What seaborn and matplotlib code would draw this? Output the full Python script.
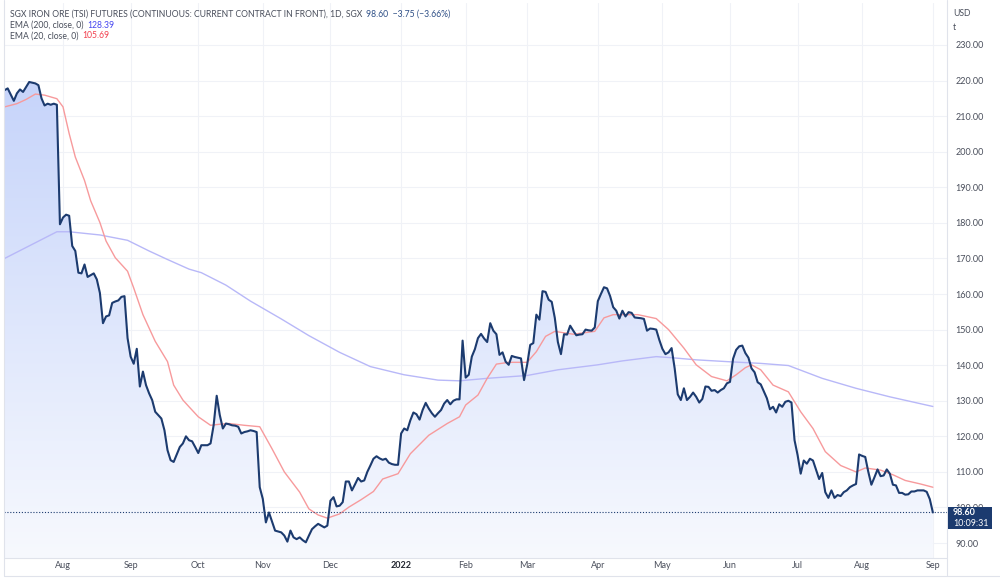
import numpy as np
import pandas as pd
import matplotlib
matplotlib.use("Agg")
import matplotlib.pyplot as plt
import seaborn as sns
from matplotlib.patches import Polygon, Rectangle
from matplotlib.lines import Line2D
from matplotlib.colors import LinearSegmentedColormap

# ---------------- data ----------------
start_date = "2021-07-06"
end_date = "2022-09-01"

close_idx = [0, 1, 3, 4, 5, 6, 8, 10, 11, 12, 13, 14, 15, 16, 17, 18, 19, 20, 21, 22, 23, 24, 25, 26, 27, 28, 29,
             30, 31, 32, 33, 34, 35, 36, 37, 38, 39, 40, 41, 42, 43, 44, 45, 46, 47, 48, 49, 51, 52, 53, 54, 55, 57,
             58, 59, 60, 61, 62, 63, 64, 66, 67, 68, 69, 70, 71, 72, 73, 74, 75, 76, 77, 78, 79, 80, 81, 82, 83, 84,
             85, 86, 88, 90, 91, 92, 93, 94, 95, 96, 97, 98, 99, 100, 101, 102, 103, 104, 105, 106, 107, 108, 109,
             110, 111, 112, 113, 114, 115, 116, 117, 118, 119, 120, 121, 122, 123, 124, 125, 126, 127, 128, 129, 130,
             131, 132, 133, 134, 135, 136, 137, 138, 139, 140, 141, 142, 143, 144, 145, 146, 147, 148, 149, 150, 151,
             152, 153, 154, 155, 156, 157, 158, 159, 160, 161, 162, 163, 164, 165, 166, 167, 168, 169, 170, 171, 172,
             173, 174, 175, 176, 177, 178, 179, 180, 181, 182, 183, 184, 185, 186, 187, 188, 189, 190, 191, 192, 193,
             194, 195, 196, 197, 198, 199, 200, 201, 202, 203, 204, 205, 206, 207, 208, 209, 210, 211, 212, 213, 214,
             215, 216, 217, 218, 219, 220, 221, 222, 223, 224, 225, 226, 227, 228, 229, 230, 231, 232, 233, 234, 235,
             236, 237, 238, 239, 240, 241, 242, 243, 244, 245, 246, 248, 249, 250, 251, 252, 253, 254, 255, 256, 257,
             258, 259, 260, 261, 262, 263, 265, 266, 267, 268, 269, 270, 271, 272, 273, 274, 275, 276, 277, 278, 279,
             280, 281, 282, 283, 284, 285, 286, 287, 288, 289, 290, 291, 292, 293, 294, 295, 296, 297, 298, 299, 300,
             301, 302]
close_val = [217.3, 217.8, 214.3, 216.4, 217.5, 216.8, 219.6, 219.2, 218.7, 215.0, 213.0, 213.5, 213.2, 213.5,
             213.2, 179.6, 181.5, 182.3, 182.0, 173.5, 172.1, 166.0, 165.8, 168.3, 164.8, 165.3, 165.8, 164.1, 160.3,
             151.8, 153.7, 154.0, 157.5, 157.9, 158.2, 159.2, 159.4, 147.6, 142.4, 140.4, 144.6, 134.0, 138.2, 134.4,
             132.1, 130.2, 126.9, 125.0, 121.7, 116.1, 113.3, 112.8, 117.0, 118.0, 120.0, 118.9, 118.6, 117.0, 115.3,
             117.5, 117.5, 118.0, 123.1, 131.4, 126.0, 122.2, 123.6, 123.4, 123.1, 123.0, 122.7, 120.8, 121.2, 121.4,
             121.7, 121.5, 121.2, 105.7, 102.4, 95.8, 98.6, 93.5, 93.0, 92.1, 90.4, 93.5, 91.6, 91.1, 91.6, 90.8,
             90.2, 92.1, 93.9, 94.7, 95.4, 94.9, 94.4, 94.9, 101.9, 102.9, 100.3, 100.5, 101.5, 107.3, 107.3, 104.8,
             106.5, 108.3, 107.3, 107.6, 110.0, 111.8, 113.7, 114.4, 113.8, 113.4, 113.7, 112.6, 112.2, 112.0, 112.0,
             120.8, 122.2, 121.7, 124.5, 126.7, 126.2, 124.7, 127.4, 129.4, 127.8, 126.5, 125.5, 126.5, 127.4, 129.2,
             130.2, 129.0, 130.0, 130.4, 130.4, 146.9, 136.5, 137.3, 142.4, 144.5, 147.6, 148.8, 147.5, 146.5, 151.8,
             149.7, 148.7, 142.9, 143.6, 141.0, 140.1, 142.6, 142.3, 142.1, 141.9, 135.8, 140.1, 145.7, 146.2, 154.2,
             152.8, 160.8, 160.6, 158.4, 157.8, 153.3, 146.5, 143.1, 148.7, 148.6, 151.1, 149.7, 148.4, 148.6, 148.7,
             150.0, 149.8, 149.7, 150.6, 158.0, 160.0, 161.9, 161.6, 159.4, 156.3, 155.3, 153.1, 155.3, 153.7, 154.9,
             154.7, 153.4, 153.3, 153.2, 153.0, 149.7, 150.3, 150.2, 150.0, 147.1, 144.6, 143.1, 143.6, 144.8, 139.1,
             131.8, 130.2, 133.5, 130.2, 131.1, 132.3, 131.1, 129.5, 130.5, 134.0, 133.9, 132.8, 133.0, 132.3, 133.0,
             133.5, 134.9, 135.3, 141.8, 144.3, 145.3, 145.5, 143.4, 142.1, 139.1, 138.0, 135.2, 134.6, 130.7, 127.6,
             128.3, 126.7, 129.0, 128.3, 129.7, 130.0, 129.5, 118.9, 114.7, 109.5, 113.2, 112.3, 113.7, 113.2, 108.0,
             109.7, 104.3, 102.7, 104.8, 102.7, 103.5, 103.2, 104.3, 104.8, 105.7, 106.2, 106.6, 114.9, 114.5, 114.2,
             110.0, 106.4, 108.5, 110.7, 108.8, 109.0, 110.7, 109.5, 106.4, 106.2, 104.1, 104.1, 103.6, 103.7, 104.5,
             104.5, 104.8, 104.8, 104.8, 104.4, 102.35, 98.6]

ema20_idx = [0, 4, 7, 10, 13, 17, 19, 21, 23, 26, 28, 31, 33, 36, 40, 42, 45, 49, 53, 55, 58, 60, 63, 67, 70, 73,
             78, 83, 87, 91, 96, 99, 102, 105, 109, 112, 116, 120, 123, 128, 132, 138, 144, 148, 150, 154, 157, 160,
             164, 170, 173, 176, 179, 185, 192, 195, 198, 206, 212, 216, 221, 225, 230, 235, 238, 241, 243, 246, 250,
             255, 259, 263, 267, 272, 277, 280, 285, 289, 293, 298, 302]
ema20_val = [212.6, 213.5, 214.7, 216.2, 215.9, 214.9, 212.6, 205.1, 198.5, 191.9, 186.2, 180.1, 174.9, 170.2,
             166.4, 161.7, 154.2, 146.7, 141.0, 134.4, 130.2, 128.3, 125.5, 123.1, 123.4, 123.6, 123.1, 122.7, 116.5,
             110.0, 104.3, 99.6, 97.9, 97.0, 98.2, 100.1, 102.2, 104.5, 108.0, 109.5, 115.1, 120.3, 123.6, 125.5,
             128.8, 131.6, 136.3, 140.3, 140.8, 140.8, 143.8, 148.1, 149.5, 148.7, 149.5, 153.3, 154.2, 154.2, 153.1,
             150.0, 144.8, 140.1, 136.8, 135.6, 137.3, 139.3, 140.1, 138.7, 134.4, 132.5, 126.9, 122.2, 115.7, 111.8,
             110.0, 111.1, 110.5, 109.2, 107.6, 106.6, 105.69]

ema200_idx = [0, 17, 21, 31, 40, 47, 53, 60, 64, 72, 80, 90, 99, 109, 119, 130, 141, 148, 157, 170, 180, 193, 201,
              212, 217, 225, 235, 246, 255, 266, 277, 288, 302]
ema200_val = [170.0, 177.5, 177.5, 176.6, 175.1, 172.1, 169.7, 167.0, 166.0, 162.5, 158.0, 153.0, 148.3, 143.6,
              139.6, 137.3, 135.8, 135.6, 136.3, 137.1, 138.7, 140.1, 141.2, 142.4, 142.1, 141.5, 141.0, 140.5, 139.9,
              136.3, 133.5, 131.1, 128.39]

y_ticks = [90, 100, 110, 120, 130, 140, 150, 160, 170, 180, 190, 200, 210, 220, 230]
title_text = "SGX IRON ORE (TSI) FUTURES (CONTINUOUS: CURRENT CONTRACT IN FRONT), 1D, SGX"
last_price = 98.60
price_change = -3.75
price_change_pct = -3.66
ema200_label = "EMA (200, close, 0)"
ema20_label = "EMA (20, close, 0)"
ema200_last = 128.39
ema20_last = 105.69
clock_text = "10:09:31"
unit_top = "USD"
unit_bottom = "t"

# ---------------- style ----------------
sns.set_theme(style="white")
plt.rcParams["font.family"] = ["Lato", "DejaVu Sans"]

W, H = 1000, 579
fig = plt.figure(figsize=(W / 100, H / 100), dpi=100)
fig.patch.set_facecolor("white")


def fx(px):
    return px / W


def fy(py):
    return 1 - py / H


ax_left, ax_right, ax_top, ax_bottom = 4, 947, 3, 558
ax = fig.add_axes([fx(ax_left), fy(ax_bottom), fx(ax_right - ax_left), (ax_bottom - ax_top) / H])

navy = "#1c3b6f"
grid_c = "#f0f2f7"
txt_c = "#4a4f5c"

bdays = pd.bdate_range(start_date, end_date)
month_pos = [i for i in range(1, len(bdays)) if bdays[i].month != bdays[i - 1].month]
month_lab = [str(bdays[i].year) if bdays[i].month == 1 else bdays[i].strftime("%b") for i in month_pos]

xmin, xmax = -0.2, 306.6
ymin, ymax = 85.8, 241.8

df_close = pd.DataFrame({"i": close_idx, "close": close_val})
df_e20 = pd.DataFrame({"i": ema20_idx, "ema": ema20_val})
df_e200 = pd.DataFrame({"i": ema200_idx, "ema": ema200_val})

# gradient area under price
verts = [(close_idx[0], ymin)] + list(zip(close_idx, close_val)) + [(close_idx[-1], ymin)]
poly = Polygon(verts, closed=True, facecolor="none", edgecolor="none")
ax.add_patch(poly)
cmap = LinearSegmentedColormap.from_list("g", ["#f7f9fe", "#c6d4fa"])
grad = np.linspace(0, 1, 256).reshape(-1, 1)
im = ax.imshow(grad, aspect="auto", cmap=cmap, origin="lower",
               extent=[close_idx[0], close_idx[-1], ymin, max(close_val)], zorder=1)
im.set_clip_path(poly)

sns.lineplot(data=df_e200, x="i", y="ema", color="#b8b8f8", lw=1.0, ax=ax, zorder=3)
sns.lineplot(data=df_e20, x="i", y="ema", color="#f79a9c", lw=1.0, ax=ax, zorder=3)
sns.lineplot(data=df_close, x="i", y="close", color=navy, lw=1.5, ax=ax, zorder=4)

ax.axhline(last_price, color=navy, lw=0.8, ls=(0, (1, 1.6)), zorder=5)

ax.set_xlim(xmin, xmax)
ax.set_ylim(ymin, ymax)
ax.set_xlabel("")
ax.set_ylabel("")

ax.set_yticks(y_ticks)
ax.set_yticklabels([f"{v:.2f}" for v in y_ticks])
ax.yaxis.tick_right()
ax.set_xticks(month_pos)
ax.set_xticklabels(month_lab)
ax.tick_params(axis="both", length=0, labelsize=6.5, colors=txt_c)
ax.tick_params(axis="y", pad=6)
ax.tick_params(axis="x", pad=2.5)
for lab in ax.get_xticklabels():
    if lab.get_text().isdigit():
        lab.set_fontweight("bold")
        lab.set_color("#222630")

ax.grid(True, color=grid_c, lw=0.8)
ax.set_axisbelow(True)
for s in ax.spines.values():
    s.set_visible(False)

# panel borders
border = "#e0e3eb"
fig.add_artist(Line2D([fx(ax_right), fx(ax_right)], [fy(0), fy(576)], color=border, lw=0.8))
fig.add_artist(Line2D([fx(ax_left), fx(ax_right)], [fy(ax_bottom), fy(ax_bottom)], color=border, lw=0.8))
fig.add_artist(Line2D([fx(ax_left), fx(W)], [fy(576), fy(576)], color=border, lw=0.8))
fig.add_artist(Line2D([fx(ax_left), fx(ax_left)], [fy(0), fy(576)], color=border, lw=0.8))

# units
fig.text(fx(953), fy(13), unit_top, fontsize=6.2, color=txt_c, va="center", ha="left")
fig.text(fx(953), fy(28), unit_bottom, fontsize=6.2, color=txt_c, va="center", ha="left")

# price label box
fig.add_artist(Rectangle((fx(948), fy(529)), fx(992 - 948), (529 - 507) / H, facecolor=navy,
                         edgecolor="none", transform=fig.transFigure, zorder=10))
fig.text(fx(953), fy(512.5), f"{last_price:.2f}", fontsize=6.4, color="white", fontweight="bold",
         va="center", ha="left", zorder=11)
fig.text(fx(953), fy(523), clock_text, fontsize=6.4, color="white", va="center", ha="left", zorder=11)

# legend texts
fig.canvas.draw()
renderer = fig.canvas.get_renderer()


def seq_text(x, y, parts, size=6.25):
    for s, c in parts:
        t = fig.text(fx(x), fy(y), s, fontsize=size, color=c, va="center", ha="left")
        bb = t.get_window_extent(renderer)
        x += bb.width + 4


sign = "\u2212" if price_change < 0 else "+"
seq_text(10, 14, [(title_text, txt_c),
                  (f"{last_price:.2f}  {sign}{abs(price_change):.2f} ({sign}{abs(price_change_pct):.2f}%)", "#2e4f86")])
seq_text(10, 25, [(ema200_label, txt_c), (f"{ema200_last:.2f}", "#4646f0")])
seq_text(10, 36, [(ema20_label, txt_c), (f"{ema20_last:.2f}", "#f2414f")])

fig.savefig("out.png", dpi=100, facecolor="white")
